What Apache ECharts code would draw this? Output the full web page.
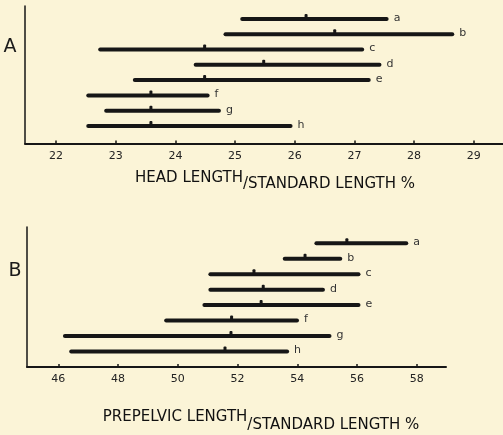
<!DOCTYPE html>
<html>
<head>
<meta charset="utf-8">
<script src="https://cdn.jsdelivr.net/npm/echarts@6/dist/echarts.min.js"></script>
<style>
  html, body { margin: 0; padding: 0; background: #fbf4d7; }
  #chart { width: 503px; height: 435px; }
</style>
</head>
<body>
<div id="chart"></div>
<script>
// sample rows, top to bottom
const rows = ['a', 'b', 'c', 'd', 'e', 'f', 'g', 'h'];

// head length / standard length %
const headLow = [25.12, 24.84, 22.74, 24.34, 23.32, 22.54, 22.84, 22.54];
const headHigh = [27.54, 28.64, 27.13, 27.42, 27.24, 24.54, 24.73, 25.93];
const headMean = [26.19, 26.67, 24.49, 25.48, 24.49, 23.59, 23.59, 23.59];
const headTicks = [22, 23, 24, 25, 26, 27, 28, 29];

// prepelvic length / standard length %
const pelvicLow = [54.64, 53.58, 51.09, 51.09, 50.89, 49.61, 46.22, 46.43];
const pelvicHigh = [57.65, 55.44, 56.05, 54.86, 56.05, 53.99, 55.08, 53.66];
const pelvicMean = [55.66, 54.26, 52.55, 52.86, 52.79, 51.80, 51.78, 51.58];
const pelvicTicks = [46, 48, 50, 52, 54, 56, 58];

const ink = '#161616';
const font = 'DejaVu Sans';

const toData = (lows, highs, means) => rows.map((r, i) => [i, lows[i], highs[i], means[i]]);

const renderRange = (params, api) => {
    const row = api.value(0);
    const p0 = api.coord([api.value(1), row]);
    const p1 = api.coord([api.value(2), row]);
    const pm = api.coord([api.value(3), row]);
    return {
        type: 'group',
        children: [
            {
                type: 'line',
                shape: {x1: p0[0], y1: p0[1], x2: p1[0], y2: p1[1]},
                style: {stroke: ink, lineWidth: 4, lineCap: 'round'},
            },
            {
                type: 'rect',
                shape: {x: pm[0] - 1.5, y: pm[1] - 5, width: 3, height: 5, r: 1},
                style: {fill: ink},
            },
            {
                type: 'text',
                x: p1[0] + 7,
                y: p1[1] - 1,
                style: {
                    text: rows[params.dataIndex],
                    fill: '#333',
                    font: '11px ' + font,
                    align: 'left',
                    verticalAlign: 'middle',
                },
            },
        ],
    };
};

const xAxisBase = (gridIndex, min, max, ticks) => ({
    type: 'value',
    gridIndex,
    min,
    max,
    axisLine: {onZero: false, lineStyle: {color: ink, width: 2}},
    axisTick: {inside: true, length: 3, customValues: ticks, lineStyle: {color: ink, width: 1.5}},
    axisLabel: {customValues: ticks, margin: 7, fontSize: 11, fontFamily: font, color: '#222'},
    splitLine: {show: false},
});

const yAxisBase = (gridIndex, min, max) => ({
    type: 'value',
    gridIndex,
    inverse: true,
    min,
    max,
    axisLine: {show: true, onZero: false, lineStyle: {color: ink, width: 1.5}},
    axisTick: {show: false},
    axisLabel: {show: false},
    splitLine: {show: false},
});

const axisTitle = (x, y, upper, lower, shift) => ({
    type: 'text',
    x,
    y,
    style: {
        text: '{u|' + upper + '}{d|/' + lower + '}',
        align: 'center',
        verticalAlign: 'middle',
        textAlign: 'center',
        textVerticalAlign: 'middle',
        fill: '#111',
        font: '15px ' + font,
        rich: {
            u: {fontSize: 15, fontFamily: font, color: '#111', padding: [0, 0, shift, 0]},
            d: {fontSize: 15, fontFamily: font, color: '#111', padding: [shift, 0, 0, 0]},
        },
    },
});

const panelLetter = (x, y, text) => ({
    type: 'text',
    x,
    y,
    style: {
        text,
        align: 'center',
        verticalAlign: 'middle',
        textAlign: 'center',
        textVerticalAlign: 'middle',
        fill: '#1a1a1a',
        font: '19px ' + font,
    },
});

const chart = echarts.init(document.getElementById('chart'), null, {renderer: 'canvas'});
chart.setOption({
    backgroundColor: '#fbf4d7',
    animation: false,
    grid: [
        {left: 25, top: 6, right: 0, height: 137.5},
        {left: 27, top: 227, width: 419, height: 140},
    ],
    xAxis: [
        xAxisBase(0, 21.48, 29.49, headTicks),
        xAxisBase(1, 44.95, 58.98, pelvicTicks),
    ],
    yAxis: [
        yAxisBase(0, -0.85, 8.15),
        yAxisBase(1, -1.05, 8.0),
    ],
    graphic: [
        panelLetter(10, 47, 'A'),
        panelLetter(15, 271, 'B'),
        axisTitle(275, 181.5, 'HEAD LENGTH', 'STANDARD LENGTH %', 6),
        axisTitle(261, 421, 'PREPELVIC LENGTH', 'STANDARD LENGTH %', 8),
    ],
    series: [
        {
            type: 'custom',
            xAxisIndex: 0,
            yAxisIndex: 0,
            encode: {x: [1, 2, 3], y: 0},
            renderItem: renderRange,
            data: toData(headLow, headHigh, headMean),
            clip: false,
        },
        {
            type: 'custom',
            xAxisIndex: 1,
            yAxisIndex: 1,
            encode: {x: [1, 2, 3], y: 0},
            renderItem: renderRange,
            data: toData(pelvicLow, pelvicHigh, pelvicMean),
            clip: false,
        },
    ],
});
</script>
</body>
</html>
